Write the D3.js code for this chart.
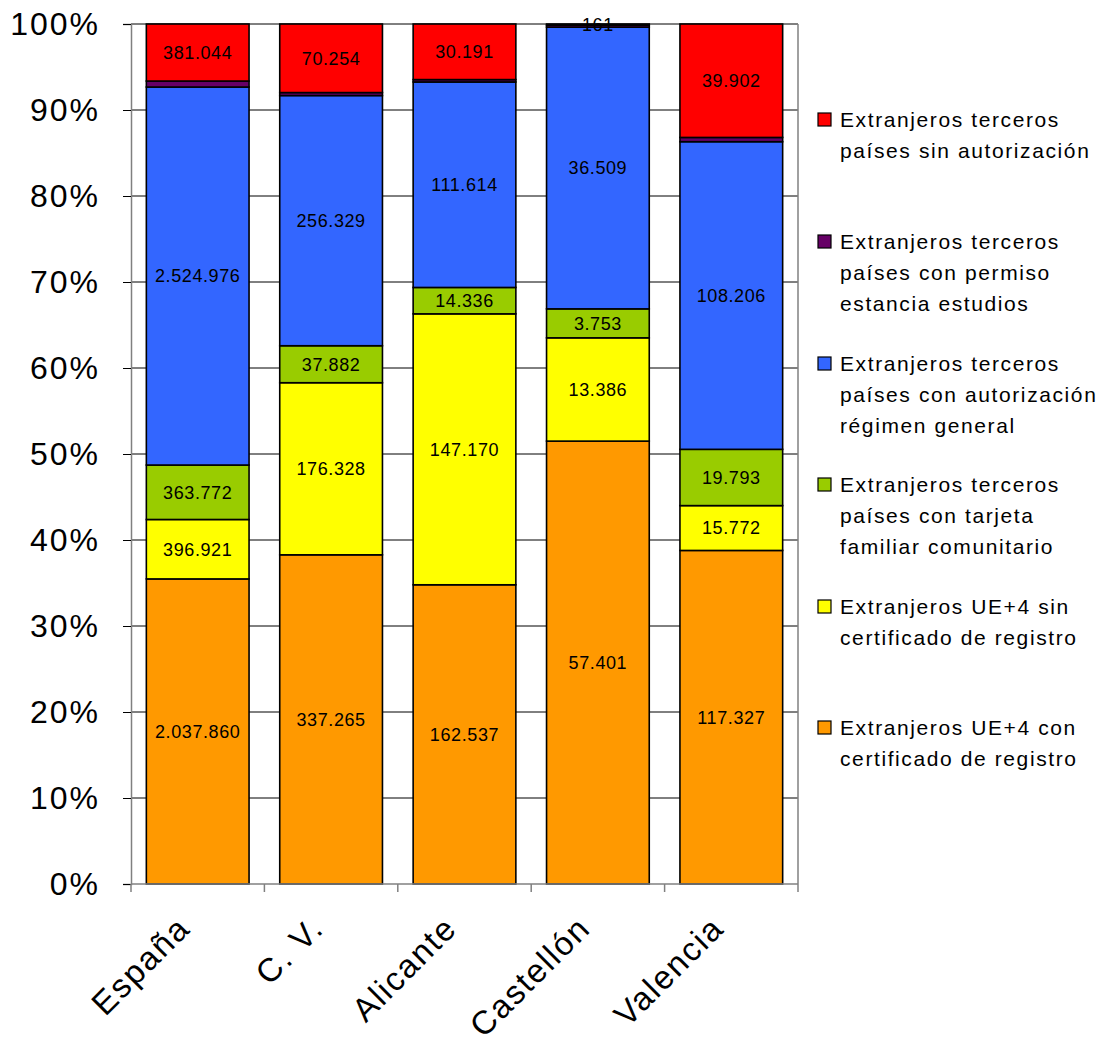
<!DOCTYPE html>
<html>
<head>
<meta charset="utf-8">
<script src="https://cdn.jsdelivr.net/npm/d3@7"></script>
<style>
  body { margin: 0; background: #fff; }
  svg { font-family: "Liberation Sans", Arial, sans-serif; }
</style>
</head>
<body>
<svg id="chart" width="1112" height="1046"></svg>
<script>
const categories = ["España", "C. V.", "Alicante", "Castellón", "Valencia"];

// series, bottom to top
const seriesNames = [
  "Extranjeros UE+4 con certificado de registro",
  "Extranjeros UE+4 sin certificado de registro",
  "Extranjeros terceros países con tarjeta familiar comunitario",
  "Extranjeros terceros países con autorización régimen general",
  "Extranjeros terceros países con permiso estancia estudios",
  "Extranjeros terceros países sin autorización"
];
const legendLines = [
  ["Extranjeros UE+4 con", "certificado de registro"],
  ["Extranjeros UE+4 sin", "certificado de registro"],
  ["Extranjeros terceros", "países con tarjeta", "familiar comunitario"],
  ["Extranjeros terceros", "países con autorización", "régimen general"],
  ["Extranjeros terceros", "países con permiso", "estancia estudios"],
  ["Extranjeros terceros", "países sin autorización"]
];
const colors = ["#FF9900", "#FFFF00", "#99CC00", "#3366FF", "#660066", "#FF0000"];

const conCertificado = [2037860, 337265, 162537, 57401, 117327];
const sinCertificado = [396921, 176328, 147170, 13386, 15772];
const tarjetaFamiliar = [363772, 37882, 14336, 3753, 19793];
const regimenGeneral = [2524976, 256329, 111614, 36509, 108206];
const estudios = [40000, 3050, 1300, 250, 1500]; // not labelled, estimated
const sinAutorizacion = [381044, 70254, 30191, 161, 39902];
const showLabel = [true, true, true, true, false, true];

const yTicks = [0, 0.1, 0.2, 0.3, 0.4, 0.5, 0.6, 0.7, 0.8, 0.9, 1];

const svg = d3.select("#chart");
const plotLeft = 131, plotRight = 798, plotTop = 24, plotBottom = 884;

const seriesValues = [conCertificado, sinCertificado, tarjetaFamiliar, regimenGeneral, estudios, sinAutorizacion];
const rows = categories.map((c, i) => {
  const r = { cat: c };
  seriesNames.forEach((s, k) => r[s] = seriesValues[k][i]);
  return r;
});

const stacked = d3.stack().keys(seriesNames).offset(d3.stackOffsetExpand)(rows);

const x = d3.scaleBand().domain(categories).range([plotLeft, plotRight]).paddingInner(0.23).paddingOuter(0.115);
const y = d3.scaleLinear().domain([0, 1]).range([plotBottom, plotTop]);
const step = x.step();

// gridlines
svg.append("g").selectAll("line")
  .data(yTicks.slice(1))
  .enter().append("line")
  .attr("x1", plotLeft).attr("x2", plotRight)
  .attr("y1", d => y(d)).attr("y2", d => y(d))
  .attr("stroke", "#000").attr("stroke-width", 1);

// right border of the plot
svg.append("line")
  .attr("x1", plotRight).attr("x2", plotRight).attr("y1", plotTop).attr("y2", plotBottom)
  .attr("stroke", "#808080").attr("stroke-width", 1.5);

// bars
const groups = svg.append("g").selectAll("g")
  .data(stacked)
  .enter().append("g")
  .attr("fill", (_, k) => colors[k]);

groups.selectAll("rect")
  .data(d => d)
  .enter().append("rect")
  .attr("x", d => x(d.data.cat))
  .attr("width", x.bandwidth())
  .attr("y", d => y(d[1]))
  .attr("height", d => y(d[0]) - y(d[1]))
  .attr("stroke", "#000")
  .attr("stroke-width", 1.6);

// value labels
const fmt = v => v.toString().replace(/\B(?=(\d{3})+(?!\d))/g, ".");
stacked.forEach((s, k) => {
  if (!showLabel[k]) return;
  svg.append("g").selectAll("text")
    .data(s)
    .enter().append("text")
    .attr("x", d => x(d.data.cat) + x.bandwidth() / 2)
    .attr("y", d => (y(d[0]) + y(d[1])) / 2)
    .attr("dy", "0.35em")
    .attr("text-anchor", "middle")
    .attr("font-size", "18px")
    .attr("letter-spacing", "0.6px")
    .attr("fill", "#000")
    .text(d => fmt(d.data[s.key]));
});

// y axis
const yAxis = svg.append("g").attr("transform", `translate(${plotLeft},0)`)
  .call(d3.axisLeft(y).tickValues(yTicks).tickFormat(d3.format(".0%")).tickSize(8).tickPadding(23));
yAxis.select(".domain").attr("stroke", "#808080").attr("stroke-width", 1.5);
yAxis.selectAll(".tick line").attr("stroke", "#000");
yAxis.selectAll(".tick text").attr("font-size", "32px").attr("fill", "#000")
  .attr("letter-spacing", "2px")
  .attr("font-family", "'Liberation Sans', Arial, sans-serif");

// x axis
svg.append("line")
  .attr("x1", plotLeft).attr("x2", plotRight).attr("y1", plotBottom).attr("y2", plotBottom)
  .attr("stroke", "#808080").attr("stroke-width", 1.5);
svg.append("g").selectAll("line")
  .data(d3.range(categories.length + 1))
  .enter().append("line")
  .attr("x1", i => plotLeft + i * step).attr("x2", i => plotLeft + i * step)
  .attr("y1", plotBottom).attr("y2", plotBottom + 8)
  .attr("stroke", "#808080").attr("stroke-width", 1.5);

svg.append("g").selectAll("text")
  .data(categories)
  .enter().append("text")
  .attr("transform", d => `translate(${x(d) + x.bandwidth() / 2 - 22},${plotBottom + 30}) rotate(-45)`)
  .attr("text-anchor", "end")
  .attr("dy", "0.7em")
  .attr("font-size", "33px")
  .attr("letter-spacing", "1.8px")
  .attr("fill", "#000")
  .text(d => d);

// legend, top entry = last series
const legendY = [120, 242, 364, 485, 607, 728];
const legend = svg.append("g").selectAll("g")
  .data(d3.range(seriesNames.length).reverse())
  .enter().append("g")
  .attr("transform", (k, i) => `translate(818,${legendY[i]})`);

legend.append("rect")
  .attr("x", 0).attr("y", -7).attr("width", 13).attr("height", 13)
  .attr("fill", k => colors[k]).attr("stroke", "#000").attr("stroke-width", 1.2);

legend.append("text")
  .attr("x", 22)
  .attr("font-size", "21px")
  .attr("letter-spacing", "1.6px")
  .attr("fill", "#000")
  .selectAll("tspan")
  .data(k => legendLines[k])
  .enter().append("tspan")
  .attr("x", 22)
  .attr("y", (_, j) => j * 31)
  .attr("dy", "0.35em")
  .text(d => d);
</script>
</body>
</html>
